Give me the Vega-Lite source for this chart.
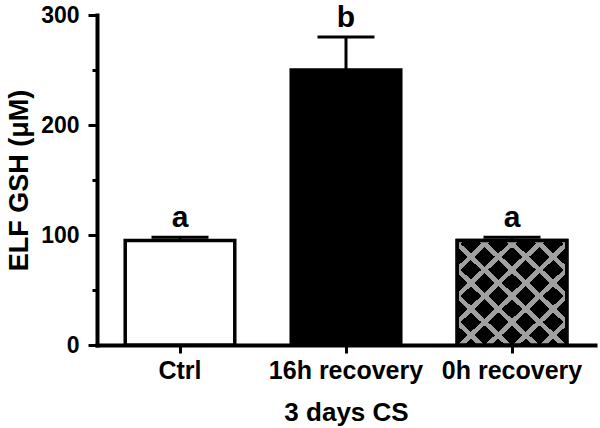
{
  "$schema": "https://vega.github.io/schema/vega-lite/v6.json",
  "width": 498,
  "height": 330,
  "autosize": "none",
  "padding": {"left": 97, "top": 15, "right": 5, "bottom": 83},
  "background": "white",
  "config": {
    "view": {"stroke": null},
    "font": "Liberation Sans",
    "axis": {
      "domainColor": "black",
      "domainWidth": 4,
      "domainCap": "square",
      "tickColor": "black",
      "tickWidth": 3,
      "labelColor": "black",
      "labelFont": "Liberation Sans",
      "labelFontWeight": "bold",
      "titleFont": "Liberation Sans",
      "titleFontWeight": "bold",
      "titleColor": "black",
      "grid": false
    }
  },
  "data": {
    "values": [
      {"group": "Ctrl", "mean": 95, "upper": 98, "sig": "a"},
      {"group": "16h recovery", "mean": 250, "upper": 280, "sig": "b"},
      {"group": "0h recovery", "mean": 95, "upper": 98, "sig": "a"}
    ]
  },
  "encoding": {
    "x": {
      "field": "group",
      "type": "nominal",
      "sort": ["Ctrl", "16h recovery", "0h recovery"],
      "scale": {"paddingInner": 0.34, "paddingOuter": 0.17},
      "title": "3 days CS",
      "axis": {
        "labelAngle": 0,
        "labelFontSize": 25,
        "labelPadding": 5,
        "tickSize": 8,
        "titleFontSize": 26,
        "titlePadding": 16
      }
    }
  },
  "layer": [
    {
      "mark": {"type": "bar", "stroke": "black", "strokeWidth": 3.5},
      "encoding": {
        "y": {
          "field": "mean",
          "type": "quantitative",
          "title": "ELF GSH (μM)",
          "scale": {"domain": [0, 300], "nice": false},
          "axis": {
            "values": [0, 50, 100, 150, 200, 250, 300],
            "labelExpr": "datum.value % 100 === 0 ? datum.label : ''",
            "tickSize": {"condition": {"test": "datum.value % 100 === 0", "value": 9}, "value": 5},
            "labelPadding": 9,
            "labelFontSize": 23,
            "titleFontSize": 27,
            "titlePadding": 7
          }
        },
        "fill": {
          "field": "group",
          "type": "nominal",
          "scale": {"domain": ["Ctrl", "16h recovery", "0h recovery"], "range": ["white", "black", "black"]},
          "legend": null
        }
      }
    },
    {
      "transform": [{"filter": "datum.group === '0h recovery'"}],
      "mark": {
        "type": "bar",
        "fill": {
          "gradient": "linear", "x1": 0, "y1": 0, "x2": 1, "y2": 1,
          "stops": [
            {"offset": 0, "color": "#a0a0a0"}, {"offset": 0.03125, "color": "#a0a0a0"}, {"offset": 0.03125, "color": "rgba(160,160,160,0)"}, {"offset": 0.125, "color": "rgba(160,160,160,0)"},
            {"offset": 0.125, "color": "#a0a0a0"}, {"offset": 0.15625, "color": "#a0a0a0"}, {"offset": 0.15625, "color": "rgba(160,160,160,0)"}, {"offset": 0.25, "color": "rgba(160,160,160,0)"},
            {"offset": 0.25, "color": "#a0a0a0"}, {"offset": 0.28125, "color": "#a0a0a0"}, {"offset": 0.28125, "color": "rgba(160,160,160,0)"}, {"offset": 0.375, "color": "rgba(160,160,160,0)"},
            {"offset": 0.375, "color": "#a0a0a0"}, {"offset": 0.40625, "color": "#a0a0a0"}, {"offset": 0.40625, "color": "rgba(160,160,160,0)"}, {"offset": 0.5, "color": "rgba(160,160,160,0)"},
            {"offset": 0.5, "color": "#a0a0a0"}, {"offset": 0.53125, "color": "#a0a0a0"}, {"offset": 0.53125, "color": "rgba(160,160,160,0)"}, {"offset": 0.625, "color": "rgba(160,160,160,0)"},
            {"offset": 0.625, "color": "#a0a0a0"}, {"offset": 0.65625, "color": "#a0a0a0"}, {"offset": 0.65625, "color": "rgba(160,160,160,0)"}, {"offset": 0.75, "color": "rgba(160,160,160,0)"},
            {"offset": 0.75, "color": "#a0a0a0"}, {"offset": 0.78125, "color": "#a0a0a0"}, {"offset": 0.78125, "color": "rgba(160,160,160,0)"}, {"offset": 0.875, "color": "rgba(160,160,160,0)"},
            {"offset": 0.875, "color": "#a0a0a0"}, {"offset": 0.90625, "color": "#a0a0a0"}, {"offset": 0.90625, "color": "rgba(160,160,160,0)"}, {"offset": 1, "color": "rgba(160,160,160,0)"}
          ]
        }
      },
      "encoding": {"y": {"field": "mean", "type": "quantitative", "title": "ELF GSH (μM)"}}
    },
    {
      "transform": [{"filter": "datum.group === '0h recovery'"}],
      "mark": {
        "type": "bar",
        "fill": {
          "gradient": "linear", "x1": 1, "y1": 0, "x2": 0, "y2": 1,
          "stops": [
            {"offset": 0, "color": "#a0a0a0"}, {"offset": 0.03125, "color": "#a0a0a0"}, {"offset": 0.03125, "color": "rgba(160,160,160,0)"}, {"offset": 0.125, "color": "rgba(160,160,160,0)"},
            {"offset": 0.125, "color": "#a0a0a0"}, {"offset": 0.15625, "color": "#a0a0a0"}, {"offset": 0.15625, "color": "rgba(160,160,160,0)"}, {"offset": 0.25, "color": "rgba(160,160,160,0)"},
            {"offset": 0.25, "color": "#a0a0a0"}, {"offset": 0.28125, "color": "#a0a0a0"}, {"offset": 0.28125, "color": "rgba(160,160,160,0)"}, {"offset": 0.375, "color": "rgba(160,160,160,0)"},
            {"offset": 0.375, "color": "#a0a0a0"}, {"offset": 0.40625, "color": "#a0a0a0"}, {"offset": 0.40625, "color": "rgba(160,160,160,0)"}, {"offset": 0.5, "color": "rgba(160,160,160,0)"},
            {"offset": 0.5, "color": "#a0a0a0"}, {"offset": 0.53125, "color": "#a0a0a0"}, {"offset": 0.53125, "color": "rgba(160,160,160,0)"}, {"offset": 0.625, "color": "rgba(160,160,160,0)"},
            {"offset": 0.625, "color": "#a0a0a0"}, {"offset": 0.65625, "color": "#a0a0a0"}, {"offset": 0.65625, "color": "rgba(160,160,160,0)"}, {"offset": 0.75, "color": "rgba(160,160,160,0)"},
            {"offset": 0.75, "color": "#a0a0a0"}, {"offset": 0.78125, "color": "#a0a0a0"}, {"offset": 0.78125, "color": "rgba(160,160,160,0)"}, {"offset": 0.875, "color": "rgba(160,160,160,0)"},
            {"offset": 0.875, "color": "#a0a0a0"}, {"offset": 0.90625, "color": "#a0a0a0"}, {"offset": 0.90625, "color": "rgba(160,160,160,0)"}, {"offset": 1, "color": "rgba(160,160,160,0)"}
          ]
        }
      },
      "encoding": {"y": {"field": "mean", "type": "quantitative", "title": "ELF GSH (μM)"}}
    },
    {
      "transform": [{"filter": "datum.group === '0h recovery'"}],
      "mark": {"type": "bar", "fill": null, "fillOpacity": 0, "stroke": "black", "strokeWidth": 3.5},
      "encoding": {"y": {"field": "mean", "type": "quantitative", "title": "ELF GSH (μM)"}}
    },
    {
      "mark": {"type": "rule", "color": "black", "strokeWidth": 3},
      "encoding": {
        "y": {"field": "mean", "type": "quantitative", "title": "ELF GSH (μM)"},
        "y2": {"field": "upper"}
      }
    },
    {
      "mark": {"type": "tick", "color": "black", "size": 57, "thickness": 3, "opacity": 1},
      "encoding": {"y": {"field": "upper", "type": "quantitative", "title": "ELF GSH (μM)"}}
    },
    {
      "mark": {"type": "text", "fontSize": 30, "fontWeight": "bold", "font": "Liberation Sans", "color": "black", "baseline": "alphabetic", "dy": -10},
      "encoding": {
        "y": {"field": "upper", "type": "quantitative", "title": "ELF GSH (μM)"},
        "text": {"field": "sig"}
      }
    }
  ]
}
